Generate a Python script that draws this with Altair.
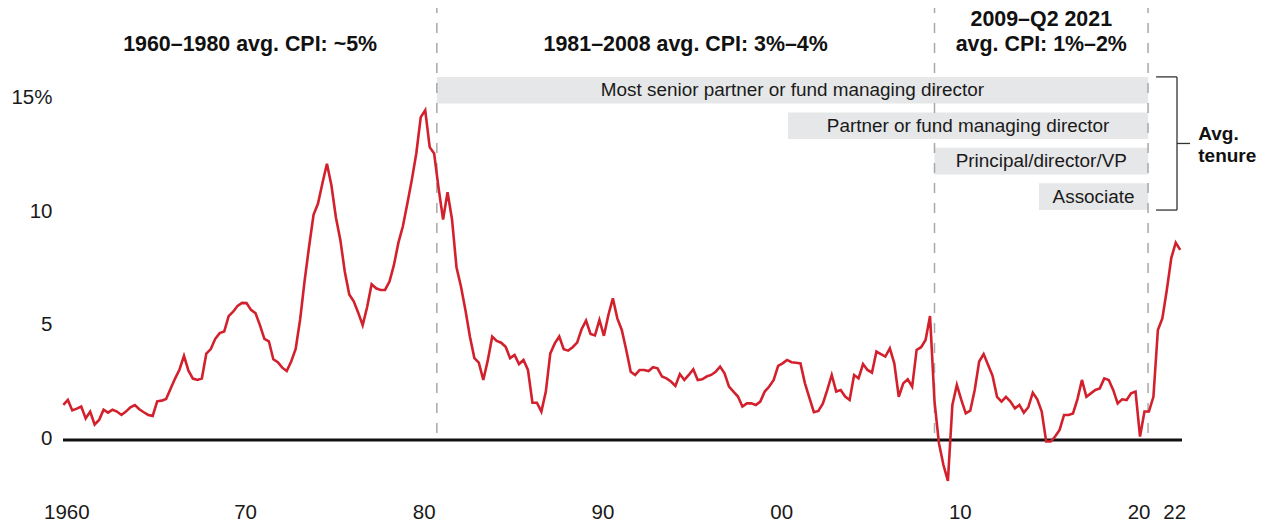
import altair as alt
import pandas as pd

# ---------------- data ----------------
# US CPI, year-over-year % change, quarterly, 1960 Q1 – 2022 Q3
cpi_values = [
    1.54, 1.76, 1.30, 1.38, 1.47, 0.95, 1.25, 0.68, 0.88, 1.33,   # 1960-62
    1.20, 1.33, 1.25, 1.10, 1.25, 1.44, 1.54, 1.35, 1.22, 1.10,   # 1962-64
    1.06, 1.70, 1.73, 1.80, 2.25, 2.70, 3.10, 3.70, 3.05, 2.70,   # 1965-67
    2.64, 2.70, 3.80, 4.00, 4.45, 4.70, 4.77, 5.45, 5.64, 5.90,   # 1967-69
    6.03, 6.02, 5.72, 5.58, 5.05, 4.45, 4.34, 3.55, 3.42, 3.18,   # 1970-72
    3.03, 3.45, 4.00, 5.30, 7.00, 8.50, 9.90, 10.40, 11.30, 12.15,  # 1972-74
    11.20, 9.80, 8.80, 7.40, 6.40, 6.10, 5.60, 5.05, 5.85, 6.85,  # 1975-77
    6.67, 6.60, 6.60, 6.97, 7.70, 8.68, 9.40, 10.40, 11.44, 12.60,  # 1977-79
    14.20, 14.50, 12.88, 12.60, 11.07, 9.70, 10.90, 9.70, 7.60, 6.75,  # 1980-82
    5.72, 4.55, 3.60, 3.40, 2.64, 3.50, 4.55, 4.36, 4.28, 4.10,   # 1982-84
    3.60, 3.74, 3.34, 3.52, 3.08, 1.64, 1.64, 1.25, 2.13, 3.81,   # 1985-87
    4.25, 4.55, 3.99, 3.93, 4.08, 4.28, 4.87, 5.25, 4.66, 4.60,   # 1987-89
    5.28, 4.58, 5.50, 6.23, 5.35, 4.84, 3.96, 3.00, 2.86, 3.08,   # 1990-92
    3.08, 3.03, 3.20, 3.15, 2.79, 2.71, 2.57, 2.38, 2.90, 2.64,   # 1992-94
    2.86, 3.11, 2.64, 2.67, 2.79, 2.86, 3.00, 3.23, 2.93, 2.35,   # 1995-97
    2.13, 1.91, 1.47, 1.61, 1.61, 1.54, 1.69, 2.13, 2.35, 2.64,   # 1997-99
    3.26, 3.37, 3.52, 3.42, 3.40, 3.37, 2.49, 1.85, 1.22, 1.28,   # 2000-02
    1.60, 2.20, 2.86, 2.13, 2.20, 1.91, 1.76, 2.86, 2.71, 3.34,   # 2002-04
    3.08, 2.96, 3.89, 3.78, 3.67, 4.03, 3.37, 1.90, 2.49, 2.67,   # 2005-07
    2.35, 3.96, 4.08, 4.40, 5.45, 1.70, -0.15, -1.10, -1.80, 1.54,  # 2007-09
    2.42, 1.76, 1.17, 1.29, 2.20, 3.45, 3.78, 3.30, 2.82, 1.90,   # 2010-12
    1.69, 1.90, 1.69, 1.39, 1.54, 1.20, 1.44, 2.08, 1.79, 1.25,   # 2012-14
    -0.07, -0.07, 0.15, 0.44, 1.10, 1.10, 1.17, 1.80, 2.64, 1.90,  # 2015-17
    2.05, 2.20, 2.27, 2.71, 2.64, 2.20, 1.61, 1.79, 1.76, 2.05,   # 2017-19
    2.13, 0.15, 1.25, 1.25, 1.90, 4.84, 5.35, 6.60, 8.00, 8.68,   # 2020-22
    8.36,                                                          # 2022 Q3
]
first_year = 1960
quarter_t = [first_year + i / 4 for i in range(len(cpi_values))]

x_tick_years = [1960, 1970, 1980, 1990, 2000, 2010, 2020, 2022]
x_tick_labels = ["1960", "70", "80", "90", "00", "10", "20", "22"]
y_tick_values = [0, 5, 10, 15]
y_tick_labels = ["0", "5", "10", "15%"]

# period boundaries (dashed dividers) and their headings
period_bounds = [1960, 1980.9, 2008.75, 2020.7]
period_titles = [
    ["1960–1980 avg. CPI: ~5%"],
    ["1981–2008 avg. CPI: 3%–4%"],
    ["2009–Q2 2021", "avg. CPI: 1%–2%"],
]

# average-tenure bars
roles = [
    "Most senior partner or fund managing director",
    "Partner or fund managing director",
    "Principal/director/VP",
    "Associate",
]
role_start = [1980.9, 2000.55, 2008.75, 2014.6]
role_end = 2020.7
bracket_label = ["Avg.", "tenure"]

# ---------------- layout ----------------
W, H = 1119, 482
FONT = "Liberation Sans"
INK = "#1a1a1a"
RED = "#d2212d"

X_DOMAIN = [1959.98, 2022.6]
Y_DOMAIN = [-2.2, 19.0]
xs = alt.Scale(domain=X_DOMAIN, nice=False, zero=False)
ys = alt.Scale(domain=Y_DOMAIN, nice=False, zero=False)

BAR_TOP, ROW_STEP, BAR_H = 15.97, 1.561, 1.174
HEAD_BASE, HEAD_STEP = 17.09, 1.10
TEN_BASE, TEN_STEP = 13.195, 0.955

x_expr = " : ".join(
    f"datum.value == {y} ? '{l}'" for y, l in zip(x_tick_years, x_tick_labels)
) + " : ''"
y_expr = " : ".join(
    f"datum.value == {v} ? '{l}'" for v, l in zip(y_tick_values, y_tick_labels)
) + " : ''"

x_axis = alt.Axis(
    values=x_tick_years, labelExpr=x_expr, grid=False, domain=False, title=None,
    ticks=False, tickSize=0, labelPadding=12, labelOffset=3,
    labelFont=FONT, labelFontSize=20.5, labelColor=INK,
    labelBaseline="top", labelFlush=False, labelOverlap=False,
)
y_axis = alt.Axis(
    values=y_tick_values, labelExpr=y_expr, grid=False, domain=False, title=None,
    ticks=False, tickSize=0, labelPadding=11, labelOffset=-1.5,
    labelFont=FONT, labelFontSize=20.5, labelColor=INK,
    labelFlush=False, labelOverlap=False,
)


def X(field):
    return alt.X(field, scale=xs, axis=x_axis)


def Y(field):
    return alt.Y(field, scale=ys, axis=y_axis)


# ---------------- layers ----------------
role_df = pd.DataFrame({
    "role": roles,
    "start": role_start,
    "end": [role_end] * len(roles),
    "row": list(range(len(roles))),
})
role_base = alt.Chart(role_df).transform_calculate(
    top=f"{BAR_TOP} - {ROW_STEP} * datum.row",
    bottom=f"{BAR_TOP} - {ROW_STEP} * datum.row - {BAR_H}",
    ymid=f"{BAR_TOP} - {ROW_STEP} * datum.row - {BAR_H} / 2",
    xmid="(datum.start + datum.end) / 2",
)
bars = role_base.mark_rect(color="#e6e7e8").encode(
    x=X("start:Q"), x2="end:Q", y=Y("top:Q"), y2="bottom:Q",
)
bar_text = role_base.mark_text(
    font=FONT, fontSize=18.9, color=INK, align="center", baseline="middle"
).encode(x=X("xmid:Q"), y=Y("ymid:Q"), text="role:N")

div_df = pd.DataFrame({
    "x": period_bounds[1:],
    "top": [Y_DOMAIN[1]] * (len(period_bounds) - 1),
    "base": [0.0] * (len(period_bounds) - 1),
})
dividers = alt.Chart(div_df).mark_rule(
    color="#a8a8a8", strokeWidth=1.5, strokeDash=[10, 10], strokeDashOffset=5
).encode(x=X("x:Q"), y=Y("top:Q"), y2="base:Q")

zero_df = pd.DataFrame({"zero": [0.0]})
zero_line = alt.Chart(zero_df).mark_rule(color="#111111", strokeWidth=2.8).encode(
    y=Y("zero:Q")
)

cpi_df = pd.DataFrame({"t": quarter_t, "cpi": cpi_values})
line = alt.Chart(cpi_df).mark_line(color=RED, strokeWidth=2.6).encode(
    x=X("t:Q"), y=Y("cpi:Q"),
)

head_rows = []
for p, lines in enumerate(period_titles):
    n = len(lines)
    for j, txt in enumerate(lines):
        head_rows.append({
            "text": txt,
            "mid": (period_bounds[p] + period_bounds[p + 1]) / 2,
            "level": n - 1 - j,
        })
head_df = pd.DataFrame(head_rows)
headers = alt.Chart(head_df).transform_calculate(
    yy=f"{HEAD_BASE} + {HEAD_STEP} * datum.level"
).mark_text(
    font=FONT, fontSize=21.4, fontWeight="bold", color="#111111",
    align="center", baseline="alphabetic",
).encode(x=X("mid:Q"), y=Y("yy:Q"), text="text:N")

# bracket grouping the tenure bars
b_top = BAR_TOP
b_bot = BAR_TOP - ROW_STEP * (len(roles) - 1) - BAR_H
b_mid = (b_top + b_bot) / 2
bx0, bx1, bx2 = role_end + 0.45, role_end + 1.62, role_end + 2.35
bracket_df = pd.DataFrame({
    "x": [bx0, bx0, bx1, bx1],
    "x2": [bx1, bx1, bx1, bx2],
    "y": [b_top, b_bot, b_top, b_mid],
    "y2": [b_top, b_bot, b_bot, b_mid],
})
bracket = alt.Chart(bracket_df).mark_rule(color="#333333", strokeWidth=1.3).encode(
    x=X("x:Q"), x2="x2:Q", y=Y("y:Q"), y2="y2:Q",
)

ten_df = pd.DataFrame({
    "text": bracket_label,
    "level": list(range(len(bracket_label))),
    "x": [role_end + 2.81] * len(bracket_label),
})
ten_text = alt.Chart(ten_df).transform_calculate(
    yy=f"{TEN_BASE} - {TEN_STEP} * datum.level"
).mark_text(
    font=FONT, fontSize=19, fontWeight="bold", color="#111111",
    align="left", baseline="alphabetic",
).encode(x=X("x:Q"), y=Y("yy:Q"), text="text:N")

chart = alt.layer(
    bars, dividers, bar_text, zero_line, line, headers, bracket, ten_text
).properties(
    width=W,
    height=H,
    autosize=alt.AutoSizeParams(type="none"),
    padding={"left": 55, "top": 0, "right": 75, "bottom": 34},
    background="white",
).configure_view(stroke="transparent")

chart.save("out.html", embed_options={"renderer": "svg", "actions": False})
